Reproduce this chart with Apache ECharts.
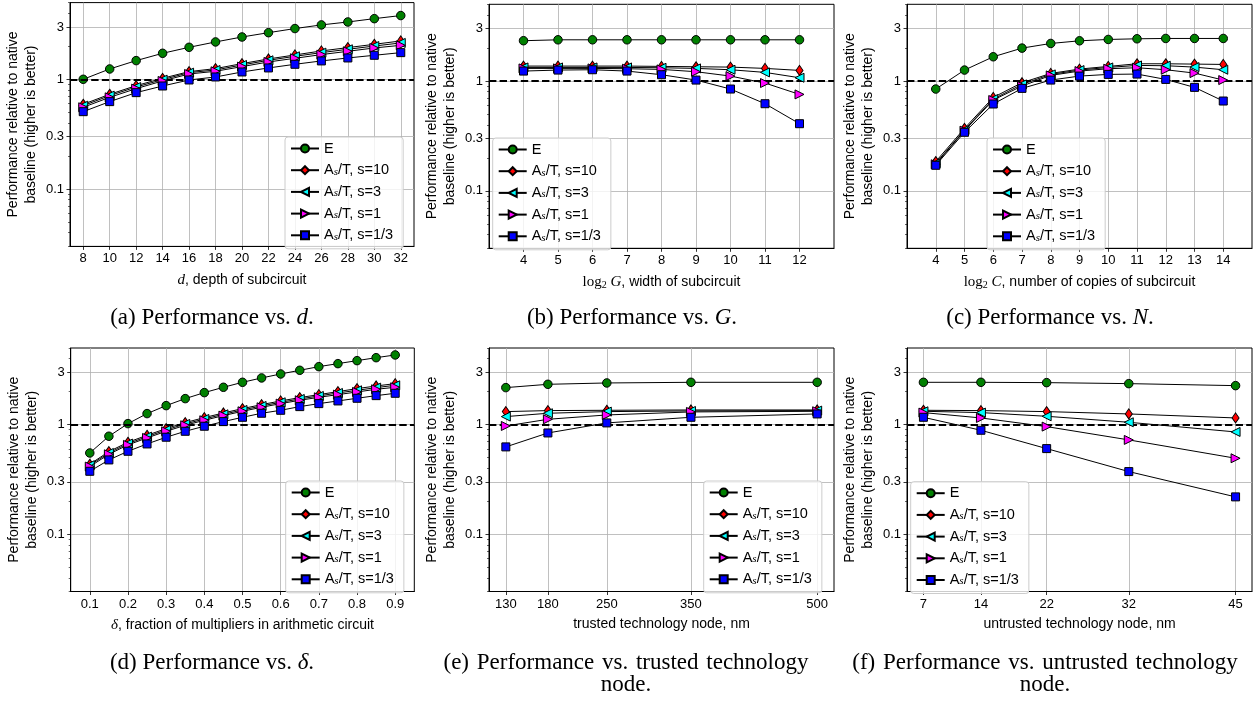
<!DOCTYPE html>
<html><head><meta charset="utf-8">
<script src="https://cdn.jsdelivr.net/npm/echarts@6/dist/echarts.min.js"></script>
<style>html,body{margin:0;padding:0;background:#fff}#c{width:1258px;height:704px}</style>
</head><body><div id="c"></div>
<script>
// ---------- data ----------
const seriesNames = ['E', 'A_s/T, s=10', 'A_s/T, s=3', 'A_s/T, s=1', 'A_s/T, s=1/3'];
const yTickValues = [0.1, 0.3, 1, 3];
const yMinorTickValues = [0.03, 0.04, 0.05, 0.06, 0.07, 0.08, 0.09, 0.2, 0.4, 0.5, 0.6, 0.7, 0.8, 0.9, 2, 4, 5];

// (a) depth of subcircuit
const aX = [8, 10, 12, 14, 16, 18, 20, 22, 24, 26, 28, 30, 32];
const aTicks = [8, 10, 12, 14, 16, 18, 20, 22, 24, 26, 28, 30, 32];
const aE   = [1.0, 1.242, 1.48, 1.726, 1.957, 2.19, 2.43, 2.66, 2.90, 3.13, 3.33, 3.57, 3.81];
const aS10 = [0.592, 0.730, 0.875, 1.021, 1.175, 1.251, 1.39, 1.532, 1.667, 1.813, 1.944, 2.085, 2.236];
const aS3  = [0.575, 0.710, 0.851, 0.993, 1.15, 1.216, 1.351, 1.49, 1.62, 1.75, 1.877, 2.01, 2.145];
const aS1  = [0.556, 0.685, 0.822, 0.966, 1.118, 1.183, 1.305, 1.439, 1.554, 1.679, 1.80, 1.93, 2.04];
const aS13 = [0.507, 0.626, 0.756, 0.869, 0.986, 1.05, 1.166, 1.269, 1.37, 1.47, 1.565, 1.655, 1.75];

// (b) log2 G, width of subcircuit
const bX = [4, 5, 6, 7, 8, 9, 10, 11, 12];
const bTicks = [4, 5, 6, 7, 8, 9, 10, 11, 12];
const bE   = [2.33, 2.375, 2.375, 2.375, 2.375, 2.375, 2.375, 2.375, 2.375];
const bS10 = [1.369, 1.369, 1.369, 1.369, 1.36, 1.35, 1.34, 1.304, 1.25];
const bS3  = [1.331, 1.331, 1.331, 1.331, 1.322, 1.304, 1.268, 1.199, 1.072];
const bS1  = [1.304, 1.304, 1.304, 1.295, 1.277, 1.216, 1.11, 0.959, 0.756];
const bS13 = [1.233, 1.259, 1.268, 1.233, 1.142, 1.021, 0.846, 0.622, 0.409];

// (c) log2 C, number of copies
const cX = [4, 5, 6, 7, 8, 9, 10, 11, 12, 13, 14];
const cTicks = [4, 5, 6, 7, 8, 9, 10, 11, 12, 13, 14];
const cE   = [0.846, 1.259, 1.664, 1.995, 2.2, 2.326, 2.392, 2.426, 2.443, 2.443, 2.443];
const cS10 = [0.185, 0.371, 0.710, 0.966, 1.174, 1.286, 1.359, 1.437, 1.437, 1.427, 1.417];
const cS3  = [0.1785, 0.3585, 0.686, 0.933, 1.15, 1.259, 1.331, 1.388, 1.379, 1.34, 1.268];
const cS1  = [0.1747, 0.3535, 0.672, 0.901, 1.126, 1.233, 1.295, 1.322, 1.268, 1.182, 1.021];
const cS13 = [0.171, 0.3415, 0.618, 0.858, 1.021, 1.11, 1.15, 1.158, 1.035, 0.876, 0.658];

// (d) delta, fraction of multipliers
const dX = [0.1, 0.15, 0.2, 0.25, 0.3, 0.35, 0.4, 0.45, 0.5, 0.55, 0.6, 0.65, 0.7, 0.75, 0.8, 0.85, 0.9];
const dTicks = [0.1, 0.2, 0.3, 0.4, 0.5, 0.6, 0.7, 0.8, 0.9];
const dE   = [0.551, 0.783, 1.021, 1.26, 1.49, 1.726, 1.958, 2.19, 2.432, 2.665, 2.897, 3.13, 3.38, 3.60, 3.834, 4.08, 4.32];
const dS10 = [0.435, 0.567, 0.690, 0.799, 0.920, 1.043, 1.158, 1.277, 1.399, 1.522, 1.644, 1.763, 1.877, 2.0, 2.13, 2.252, 2.365];
const dS3  = [0.426, 0.551, 0.671, 0.777, 0.894, 1.014, 1.126, 1.242, 1.36, 1.48, 1.598, 1.714, 1.826, 1.944, 2.056, 2.175, 2.284];
const dS1  = [0.414, 0.536, 0.653, 0.756, 0.869, 0.986, 1.095, 1.208, 1.323, 1.439, 1.554, 1.667, 1.775, 1.877, 1.986, 2.1, 2.19];
const dS13 = [0.375, 0.476, 0.571, 0.666, 0.767, 0.869, 0.966, 1.065, 1.166, 1.269, 1.351, 1.459, 1.554, 1.644, 1.739, 1.838, 1.931];

// (e) trusted technology node, nm
const eX = [130, 180, 250, 350, 500];
const eTicks = [130, 180, 250, 350, 500];
const eE   = [2.175, 2.332, 2.399, 2.432, 2.432];
const eS10 = [1.314, 1.342, 1.351, 1.36, 1.36];
const eS3  = [1.183, 1.269, 1.314, 1.332, 1.342];
const eS1  = [0.972, 1.118, 1.225, 1.305, 1.323];
const eS13 = [0.626, 0.839, 1.036, 1.166, 1.251];

// (f) untrusted technology node, nm
const fX = [7, 14, 22, 32, 45];
const fTicks = [7, 14, 22, 32, 45];
const fE   = [2.432, 2.432, 2.415, 2.365, 2.268];
const fS10 = [1.351, 1.342, 1.314, 1.251, 1.15];
const fS3  = [1.323, 1.287, 1.191, 1.05, 0.857];
const fS1  = [1.287, 1.15, 0.959, 0.725, 0.493];
const fS13 = [1.166, 0.888, 0.604, 0.3727, 0.219];

// ---------- layout / style ----------
const SANS = '"Liberation Sans", Arial, sans-serif';
const SERIF = '"Liberation Serif", "Times New Roman", serif';
const JS = '{w| }'; // justified (stretched) word space for two-line captions
const STY = [
  { symbol: 'circle',   size: 8.5,     color: '#008000', rot: 0 },
  { symbol: 'diamond',  size: [7, 10], color: '#ff0000', rot: 0 },
  { symbol: 'triangle', size: 9,       color: '#00ffff', rot: 90 },
  { symbol: 'triangle', size: 9,       color: '#ff00ff', rot: -90 },
  { symbol: 'rect',     size: 8,       color: '#0000ff', rot: 0 }
];
const panels = [
  { x: aX, ys: [aE, aS10, aS3, aS1, aS13], ticks: aTicks, min: 7, max: 33, fmt: v => String(v),
    grid: { left: 70, top: 2.6, width: 344, height: 243.8 },
    xname: '{i|d}, depth of subcircuit', legend: { left: 285, top: 137 },
    caption: '(a) Performance vs. {i|d}.', cx: 212, cy: 318 },
  { x: bX, ys: [bE, bS10, bS3, bS1, bS13], ticks: bTicks, min: 3, max: 13, fmt: v => String(v),
    grid: { left: 489, top: 4.3, width: 345, height: 244 },
    xname: '{r|log}{sb|2}{i| G}, width of subcircuit', legend: { left: 492.7, top: 138 },
    caption: '(b) Performance vs. {i|G}.', cx: 632, cy: 318 },
  { x: cX, ys: [cE, cS10, cS3, cS1, cS13], ticks: cTicks, min: 3, max: 15, fmt: v => String(v),
    grid: { left: 907, top: 4.3, width: 345, height: 244 },
    xname: '{r|log}{sb|2}{i| C}, number of copies of subcircuit', legend: { left: 987, top: 138 },
    caption: '(c) Performance vs. {i|N}.', cx: 1050, cy: 318 },
  { x: dX, ys: [dE, dS10, dS3, dS1, dS13], ticks: dTicks, min: 0.05, max: 0.95, fmt: v => v.toFixed(1),
    grid: { left: 70.7, top: 348, width: 343.6, height: 243.5 },
    xname: '{i|δ}, fraction of multipliers in arithmetic circuit', legend: { left: 285.7, top: 481 },
    caption: '(d) Performance vs. {i|δ}.', cx: 212, cy: 663 },
  { x: eX, ys: [eE, eS10, eS3, eS1, eS13], ticks: eTicks, min: 110, max: 520, fmt: v => String(v),
    grid: { left: 489, top: 348, width: 345, height: 243.5 },
    xname: 'trusted technology node, nm', legend: { left: 703.7, top: 481 },
    caption: ['(e)', 'Performance', 'vs.', 'trusted', 'technology'].join(JS) + '\nnode.', cx: 626, cy: 674 },
  { x: fX, ys: [fE, fS10, fS3, fS1, fS13], ticks: fTicks, min: 5, max: 47, fmt: v => String(v),
    grid: { left: 907, top: 348, width: 345, height: 243.5 },
    xname: 'untrusted technology node, nm', legend: { left: 910.7, top: 481.7 },
    caption: ['(f)', 'Performance', 'vs.', 'untrusted', 'technology'].join(JS) + '\nnode.', cx: 1045, cy: 674 }
];

const grids = [], xAxes = [], yAxes = [], series = [], legends = [], graphics = [];
const axisColor = '#000';
const gridColor = '#b0b0b0';

panels.forEach((p, i) => {
  grids.push(Object.assign({ show: true, borderColor: '#000', borderWidth: 1, backgroundColor: 'rgba(0,0,0,0)',
    containLabel: false, outerBoundsMode: 'none' }, p.grid));
  xAxes.push({
    gridIndex: i, type: 'value', min: p.min, max: p.max,
    name: p.xname, nameLocation: 'middle', nameGap: 26,
    nameTextStyle: { fontFamily: SANS, fontSize: 14, color: '#000',
      rich: { i: { fontFamily: SERIF, fontStyle: 'italic', fontSize: 15, color: '#000' },
              r: { fontFamily: SERIF, fontSize: 15, color: '#000' },
              sb: { fontFamily: SERIF, fontSize: 10, color: '#000', verticalAlign: 'bottom', padding: [6, 0, 0, 0] } } },
    axisLine: { show: true, onZero: false, lineStyle: { color: axisColor, width: 1 } },
    axisTick: { show: true, customValues: p.ticks, length: 3.5, lineStyle: { color: axisColor, width: 0.8 } },
    axisLabel: { show: true, customValues: p.ticks, formatter: p.fmt, margin: 6, fontFamily: SANS, fontSize: 13, color: '#000' },
    splitLine: { show: true, lineStyle: { color: gridColor, width: 0.8 } },
    minorTick: { show: false }, minorSplitLine: { show: false }
  });
  yAxes.push({
    gridIndex: i, type: 'log', logBase: 10, min: 0.03, max: 5, position: 'left',
    name: 'Performance relative to native\nbaseline (higher is better)',
    nameLocation: 'middle', nameGap: 30, nameRotate: 90,
    nameTextStyle: { fontFamily: SANS, fontSize: 14, lineHeight: 18, color: '#000', align: 'center' },
    axisLine: { show: true, lineStyle: { color: axisColor, width: 1 } },
    axisTick: { show: true, customValues: yTickValues, length: 3.5, lineStyle: { color: axisColor, width: 0.8 } },
    axisLabel: { show: true, customValues: yTickValues, margin: 6, fontFamily: SANS, fontSize: 13, color: '#000',
      formatter: v => String(parseFloat(Number(v).toPrecision(2))) },
    splitLine: { show: true, lineStyle: { color: gridColor, width: 0.8 } },
    minorTick: { show: false }, minorSplitLine: { show: false }
  });
  yAxes.push({
    gridIndex: i, type: 'log', logBase: 10, min: 0.03, max: 5, position: 'left', offset: 0,
    axisLine: { show: false },
    axisTick: { show: true, customValues: yMinorTickValues, length: 2, lineStyle: { color: axisColor, width: 0.6 } },
    axisLabel: { show: false },
    splitLine: { show: false }
  });
  p.ys.forEach((ys, k) => {
    const s = {
      type: 'line', name: seriesNames[k], xAxisIndex: i, yAxisIndex: 2 * i,
      data: p.x.map((x, j) => [x, ys[j]]),
      symbol: STY[k].symbol, symbolSize: STY[k].size, symbolRotate: STY[k].rot, showSymbol: true, showAllSymbol: true,
      itemStyle: { color: STY[k].color, borderColor: '#000', borderWidth: 1 },
      lineStyle: { color: '#000', width: 1 },
      emphasis: { disabled: true }, z: 3 + k, animation: false, clip: false
    };
    if (k === 0) {
      s.markLine = { silent: true, symbol: ['none', 'none'], label: { show: false }, animation: false,
        lineStyle: { type: [7.4, 3.2], color: '#000', width: 2 }, emphasis: { disabled: true },
        data: [{ yAxis: 1 }] };
    }
    series.push(s);
  });
  legends.push({
    left: p.legend.left, top: p.legend.top, orient: 'vertical', data: seriesNames,
    itemWidth: 28, itemHeight: 10, itemGap: 6.7, padding: [4, 10, 6, 5],
    borderColor: '#cccccc', borderWidth: 1, borderRadius: 3, backgroundColor: 'rgba(255,255,255,0.8)',
    selectedMode: false,
    textStyle: { fontFamily: SANS, fontSize: 14.5, lineHeight: 14, color: '#000',
      rich: { a: { fontFamily: SANS, fontSize: 14.5, color: '#000' },
              s: { fontFamily: SERIF, fontStyle: 'italic', fontSize: 11, color: '#000', verticalAlign: 'bottom' } } },
    formatter: n => n === 'E' ? 'E' : n.replace('A_s', '{a|A}{s|s}')
  });
  graphics.push({
    type: 'text', x: p.cx, y: p.cy, silent: true,
    style: {
      text: p.caption, font: '23px ' + SERIF, fill: '#000', textAlign: 'center', textVerticalAlign: 'middle',
      lineHeight: 22,
      rich: { i: { font: 'italic 23px ' + SERIF, fill: '#000' },
              w: { font: '23px ' + SERIF, fill: '#000', padding: [0, 2, 0, 0] } }
    }
  });
});

const chart = echarts.init(document.getElementById('c'), null, { renderer: 'canvas' });
chart.setOption({
  animation: false,
  backgroundColor: '#fff',
  grid: grids, xAxis: xAxes, yAxis: yAxes, series: series, legend: legends,
  graphic: { elements: graphics }
});
</script></body></html>
